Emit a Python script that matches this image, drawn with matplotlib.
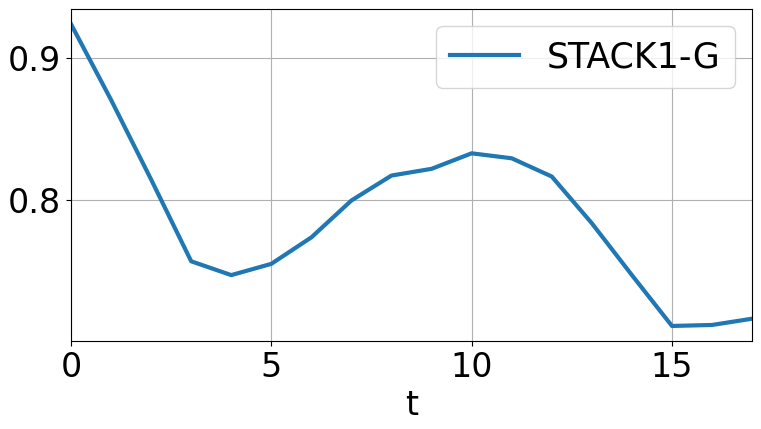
import numpy as np
import matplotlib.pyplot as plt

t = np.arange(0, 18)
stack1_g = [0.9238, 0.8706, 0.8147, 0.7573, 0.7476, 0.7555, 0.7741, 0.8000, 0.8175,
            0.8222, 0.8331, 0.8296, 0.8168, 0.7840, 0.7476, 0.7119, 0.7126, 0.7170]

fig = plt.figure(figsize=(7.61, 4.29), dpi=100)
ax = fig.add_axes([0.0933, 0.205, 0.895, 0.774])
ax.plot(t, stack1_g, color='#1f77b4', linewidth=3, label='STACK1-G')
ax.set_xlim(0, 17)
ax.set_xticks([0, 5, 10, 15])
ax.set_yticks([0.8, 0.9])
ax.tick_params(labelsize=24)
ax.set_xlabel('t', fontsize=24)
ax.grid(True)
ax.legend(loc='upper right', fontsize=25)
fig.savefig('out.png', dpi=100)
